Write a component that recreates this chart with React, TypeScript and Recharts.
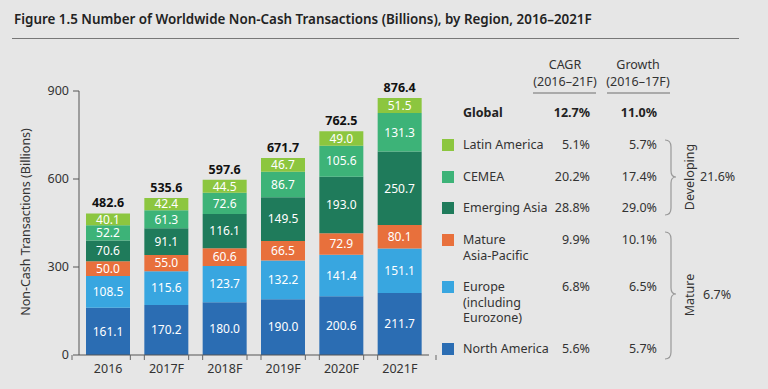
import React from 'react';
import { BarChart, Bar, XAxis, YAxis, LabelList } from 'recharts';

const years = ['2016', '2017F', '2018F', '2019F', '2020F', '2021F'];
const northAmerica = [161.1, 170.2, 180.0, 190.0, 200.6, 211.7];
const europe = [108.5, 115.6, 123.7, 132.2, 141.4, 151.1];
const matureApac = [50.0, 55.0, 60.6, 66.5, 72.9, 80.1];
const emergingAsia = [70.6, 91.1, 116.1, 149.5, 193.0, 250.7];
const cemea = [52.2, 61.3, 72.6, 86.7, 105.6, 131.3];
const latinAmerica = [40.1, 42.4, 44.5, 46.7, 49.0, 51.5];
const totals = [482.6, 535.6, 597.6, 671.7, 762.5, 876.4];
const yTicks = [0, 300, 600, 900];

// legend table, top to bottom
const regionNames = [['Latin America'], ['CEMEA'], ['Emerging Asia'], ['Mature', 'Asia-Pacific'], ['Europe', '(including', 'Eurozone)'], ['North America']];
const cagr = ['5.1%', '20.2%', '28.8%', '9.9%', '6.8%', '5.6%'];
const growth = ['5.7%', '17.4%', '29.0%', '10.1%', '6.5%', '5.7%'];
const globalCagr = '12.7%';
const globalGrowth = '11.0%';
const groups = [{ name: 'Developing', value: '21.6%' }, { name: 'Mature', value: '6.7%' }];

const colors = {
  northAmerica: '#2b6db3',
  europe: '#38a6e0',
  matureApac: '#e8703c',
  emergingAsia: '#1f7b5b',
  cemea: '#3db378',
  latinAmerica: '#8cc63f',
};
const legendColors = [colors.latinAmerica, colors.cemea, colors.emergingAsia, colors.matureApac, colors.europe, colors.northAmerica];

const data = years.map((year, i) => ({
  year,
  northAmerica: northAmerica[i],
  europe: europe[i],
  matureApac: matureApac[i],
  emergingAsia: emergingAsia[i],
  cemea: cemea[i],
  latinAmerica: latinAmerica[i],
  total: totals[i],
}));

const FONT = '"Noto Sans", "Open Sans", sans-serif';
const rowCenters = [145, 177, 208, 240, 287, 349];
const groupCenters = [177, 295];

const XTick = (props: any) => {
  const { x, y, payload } = props;
  const half = payload && payload.offset ? payload.offset : 22;
  const gap = 7;
  return (
    <g>
      <line x1={x - half - gap} y1={y - 8} x2={x - half - gap} y2={y - 3} stroke="#666" />
      <line x1={x + half + gap} y1={y - 8} x2={x + half + gap} y2={y - 3} stroke="#666" />
      <text x={x} y={y + 10} textAnchor="middle" fill="#333" fontSize={12.5} fontFamily={FONT}>{payload.value}</text>
    </g>
  );
};

const TotalLabel = (props: any) => {
  const { x, y, width, index } = props;
  return (
    <text x={x + width / 2} y={y - 6} textAnchor="middle" fill="#111" fontSize={12.5} fontWeight={700} fontFamily={FONT}>
      {totals[index].toFixed(1)}
    </text>
  );
};

const segLabel = { fill: '#fff', fontSize: 12, fontFamily: FONT };
const fmt = (v: any) => Number(v).toFixed(1);

const series: { key: keyof typeof colors }[] = [
  { key: 'northAmerica' }, { key: 'europe' }, { key: 'matureApac' },
  { key: 'emergingAsia' }, { key: 'cemea' }, { key: 'latinAmerica' },
];

const cell = { position: 'absolute' as const, fontSize: 12.5, lineHeight: '16px', color: '#333', whiteSpace: 'nowrap' as const };

export default function App() {
  return (
    <div style={{ position: 'absolute', left: 0, top: 0, width: 768, height: 389, background: '#e6e6e6', fontFamily: FONT, color: '#222', overflow: 'hidden' }}>
      <div style={{ position: 'absolute', left: 14, top: 10, fontSize: 13.4, fontWeight: 600, color: '#222', whiteSpace: 'nowrap' }}>
        Figure 1.5 Number of Worldwide Non-Cash Transactions (Billions), by Region, 2016–2021F
      </div>
      <div style={{ position: 'absolute', left: 12, top: 38, width: 727, height: 1, background: '#777' }} />

      <div style={{ position: 'absolute', left: 0, top: 0 }}>
        <BarChart width={440} height={389} data={data} margin={{ top: 91, right: 11, left: 39, bottom: 0 }}>
          <XAxis dataKey="year" height={34} stroke="#555" tickLine={false} tick={<XTick />} interval={0} />
          <YAxis width={40} domain={[0, 900]} ticks={yTicks} stroke="#555" tickSize={6} tickMargin={4}
            tick={{ fill: '#333', fontSize: 12.5, fontFamily: FONT }} />
          {series.map((s, i) => (
            <Bar key={s.key} dataKey={s.key} stackId="a" fill={colors[s.key]} barSize={44} isAnimationActive={false}>
              <LabelList dataKey={s.key} position="center" formatter={fmt} style={segLabel} />
              {i === series.length - 1 ? <LabelList dataKey="total" content={<TotalLabel />} /> : null}
            </Bar>
          ))}
        </BarChart>
      </div>

      <div style={{ position: 'absolute', left: 25, top: 222, transform: 'translate(-50%, -50%) rotate(-90deg)', fontSize: 12.5, whiteSpace: 'nowrap', color: '#333' }}>
        Non-Cash Transactions (Billions)
      </div>

      {/* column headers */}
      <div style={{ ...cell, left: 525, top: 56, width: 80, textAlign: 'center', lineHeight: '17px' }}>
        CAGR<br />(2016–21F)
      </div>
      <div style={{ position: 'absolute', left: 533, top: 92, width: 63, height: 2, background: '#aaa' }} />
      <div style={{ ...cell, left: 598, top: 56, width: 80, textAlign: 'center', lineHeight: '17px' }}>
        Growth<br />(2016–17F)
      </div>
      <div style={{ position: 'absolute', left: 607, top: 92, width: 63, height: 2, background: '#aaa' }} />

      {/* global row */}
      <div style={{ ...cell, left: 463, top: 105, fontWeight: 700, color: '#222' }}>Global</div>
      <div style={{ ...cell, left: 540, width: 50, top: 105, textAlign: 'right', fontWeight: 700, color: '#222' }}>{globalCagr}</div>
      <div style={{ ...cell, left: 600, width: 57, top: 105, textAlign: 'right', fontWeight: 700, color: '#222' }}>{globalGrowth}</div>

      {regionNames.map((lines, i) => (
        <React.Fragment key={i}>
          <div style={{ position: 'absolute', left: 442, top: rowCenters[i] - 6, width: 12, height: 12, background: legendColors[i] }} />
          <div style={{ ...cell, left: 463, top: rowCenters[i] - 8, lineHeight: '15.5px' }}>
            {lines.map((l, j) => <div key={j}>{l}</div>)}
          </div>
          <div style={{ ...cell, left: 540, width: 50, top: rowCenters[i] - 8, textAlign: 'right' }}>{cagr[i]}</div>
          <div style={{ ...cell, left: 600, width: 57, top: rowCenters[i] - 8, textAlign: 'right' }}>{growth[i]}</div>
        </React.Fragment>
      ))}

      {/* braces */}
      <svg style={{ position: 'absolute', left: 0, top: 0 }} width={768} height={389}>
        <path d="M665,140 Q671,140 671,147 L671,171 Q671,177 676,177 Q671,177 671,183 L671,208 Q671,215 665,215" fill="none" stroke="#999" strokeWidth={1.2} />
        <path d="M665,232 Q671,232 671,239 L671,288 Q671,294 676,294 Q671,294 671,300 L671,352 Q671,359 665,359" fill="none" stroke="#999" strokeWidth={1.2} />
      </svg>
      {groups.map((g, i) => (
        <React.Fragment key={g.name}>
          <div style={{ ...cell, left: 690, top: groupCenters[i], transform: 'translate(-50%, -50%) rotate(-90deg)' }}>{g.name}</div>
          <div style={{ ...cell, left: i === 0 ? 700 : 703, top: groupCenters[i] - 8 }}>{g.value}</div>
        </React.Fragment>
      ))}
    </div>
  );
}
